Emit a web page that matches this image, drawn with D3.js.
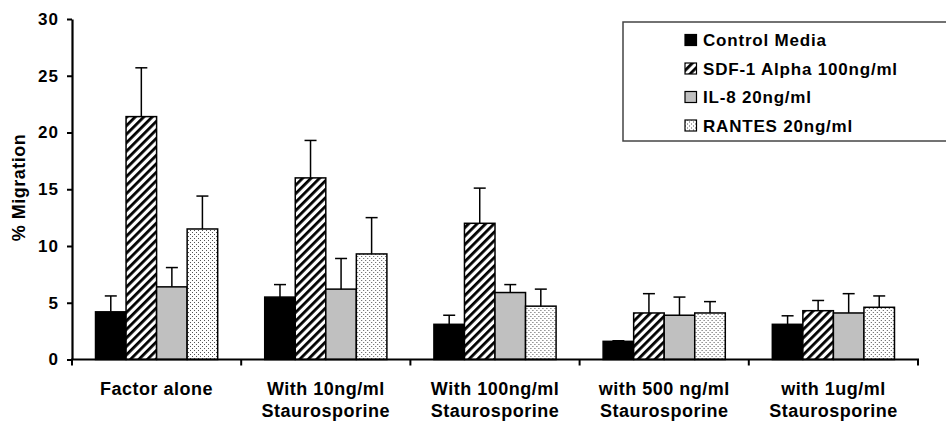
<!DOCTYPE html>
<html>
<head>
<meta charset="utf-8">
<script src="https://cdn.jsdelivr.net/npm/d3@7"></script>
<style>
  html, body { margin: 0; padding: 0; background: #fff; }
  svg { display: block; font-family: "Liberation Sans", Arial, sans-serif; }
</style>
</head>
<body>
<svg id="chart" width="946" height="424"></svg>
<script>
// Treatment groups along the x axis (two-line labels)
const categories = [
  ["Factor alone"],
  ["With 10ng/ml", "Staurosporine"],
  ["With 100ng/ml", "Staurosporine"],
  ["with 500 ng/ml", "Staurosporine"],
  ["with 1ug/ml", "Staurosporine"]
];
const seriesNames = ["Control Media", "SDF-1 Alpha 100ng/ml", "IL-8 20ng/ml", "RANTES 20ng/ml"];

// Mean % migration per series, one value per group
const controlMedia = [4.2, 5.5, 3.1, 1.6, 3.1];
const sdf1Alpha    = [21.4, 16.0, 12.0, 4.1, 4.3];
const il8          = [6.4, 6.2, 5.9, 3.9, 4.1];
const rantes       = [11.5, 9.3, 4.7, 4.1, 4.6];

// Upper error (SD) per series
const controlErr = [1.4, 1.1, 0.8, 0.05, 0.75];
const sdf1Err    = [4.3, 3.3, 3.1, 1.7, 0.9];
const il8Err     = [1.7, 2.7, 0.7, 1.6, 1.7];
const rantesErr  = [2.9, 3.2, 1.5, 1.0, 1.0];

const yTicks = [0, 5, 10, 15, 20, 25, 30];

const seriesValues = [controlMedia, sdf1Alpha, il8, rantes];
const seriesErrors = [controlErr, sdf1Err, il8Err, rantesErr];

const svg = d3.select("#chart");
const margin = { left: 72, right: 28, top: 19, bottom: 64.5 };
const W = 946, H = 424;

const defs = svg.append("defs");
// diagonal hatch
const hatch = defs.append("pattern")
  .attr("id", "hatch").attr("patternUnits", "userSpaceOnUse")
  .attr("width", 6).attr("height", 6)
  .attr("patternTransform", "rotate(45)");
hatch.append("rect").attr("width", 6).attr("height", 6).attr("fill", "#fff");
hatch.append("rect").attr("x", 0).attr("y", 0).attr("width", 2.8).attr("height", 6).attr("fill", "#000");
// stippled dots
const dots = defs.append("pattern")
  .attr("id", "dots").attr("patternUnits", "userSpaceOnUse")
  .attr("width", 4).attr("height", 4);
dots.append("rect").attr("width", 4).attr("height", 4).attr("fill", "#fff");
dots.append("rect").attr("x", 0).attr("y", 0).attr("width", 1).attr("height", 1).attr("fill", "#555");
dots.append("rect").attr("x", 2).attr("y", 2).attr("width", 1).attr("height", 1).attr("fill", "#555");

const fills = ["#000", "url(#hatch)", "#c0c0c0", "url(#dots)"];

const x0 = d3.scaleBand()
  .domain(d3.range(categories.length))
  .range([margin.left, W - margin.right])
  .paddingInner(0).paddingOuter(0);
const x1 = d3.scaleBand()
  .domain(d3.range(seriesNames.length))
  .range([0, x0.bandwidth()])
  .paddingOuter(0.77).paddingInner(0);
const y = d3.scaleLinear().domain([0, 30]).range([H - margin.bottom, margin.top]);

// bars
const groups = svg.append("g").selectAll("g")
  .data(categories).join("g")
  .attr("transform", (d, i) => `translate(${x0(i)},0)`);

seriesNames.forEach((name, s) => {
  groups.append("rect")
    .attr("x", (d, i) => x1(s))
    .attr("y", (d, i) => y(seriesValues[s][i]))
    .attr("width", x1.bandwidth())
    .attr("height", (d, i) => y(0) - y(seriesValues[s][i]))
    .attr("fill", fills[s])
    .attr("stroke", "#000").attr("stroke-width", 1.5);
  // upper error bars
  groups.append("line")
    .attr("x1", (d, i) => x1(s) + x1.bandwidth() / 2)
    .attr("x2", (d, i) => x1(s) + x1.bandwidth() / 2)
    .attr("y1", (d, i) => y(seriesValues[s][i]))
    .attr("y2", (d, i) => y(seriesValues[s][i] + seriesErrors[s][i]))
    .attr("stroke", "#000").attr("stroke-width", 1.5);
  groups.append("line")
    .attr("x1", (d, i) => x1(s) + x1.bandwidth() / 2 - 6)
    .attr("x2", (d, i) => x1(s) + x1.bandwidth() / 2 + 6)
    .attr("y1", (d, i) => y(seriesValues[s][i] + seriesErrors[s][i]))
    .attr("y2", (d, i) => y(seriesValues[s][i] + seriesErrors[s][i]))
    .attr("stroke", "#000").attr("stroke-width", 1.5);
});

// y axis
const yAxis = svg.append("g")
  .attr("transform", `translate(${margin.left},0)`)
  .call(d3.axisLeft(y).tickValues(yTicks).tickSize(5).tickPadding(8).tickSizeOuter(0));
yAxis.select(".domain").attr("stroke", "#000").attr("stroke-width", 2.2);
yAxis.selectAll(".tick line").attr("stroke", "#000").attr("stroke-width", 2);
yAxis.selectAll(".tick text")
  .attr("font-size", 17).attr("font-weight", "bold").attr("fill", "#000")
  .attr("letter-spacing", 1)
  .attr("font-family", "Liberation Sans, Arial, sans-serif");

// x axis with ticks at group boundaries
const boundaries = d3.range(categories.length + 1).map(i => margin.left + i * x0.step());
const xAxisG = svg.append("g");
xAxisG.append("line")
  .attr("x1", margin.left - 1).attr("x2", W - margin.right + 1)
  .attr("y1", y(0)).attr("y2", y(0))
  .attr("stroke", "#000").attr("stroke-width", 2.2);
xAxisG.selectAll(".bt").data(boundaries).join("line")
  .attr("x1", d => d).attr("x2", d => d)
  .attr("y1", y(0)).attr("y2", y(0) + 6)
  .attr("stroke", "#000").attr("stroke-width", 2);

// category labels
const lab = svg.append("g").selectAll("text")
  .data(categories).join("text")
  .attr("x", (d, i) => x0(i) + x0.bandwidth() / 2)
  .attr("y", 395)
  .attr("text-anchor", "middle")
  .attr("letter-spacing", 0.5)
  .attr("font-size", 18).attr("font-weight", "bold").attr("fill", "#000");
lab.selectAll("tspan").data(d => d).join("tspan")
  .attr("x", function() { return this.parentNode.getAttribute("x"); })
  .attr("dy", (d, j) => j === 0 ? 0 : 22)
  .text(d => d);

// y axis title
svg.append("text")
  .attr("transform", `translate(25,187.5) rotate(-90)`)
  .attr("text-anchor", "middle")
  .attr("letter-spacing", 0.5)
  .attr("font-size", 18).attr("font-weight", "bold").attr("fill", "#000")
  .text("% Migration");

// legend
const legend = svg.append("g");
legend.append("rect")
  .attr("x", 623).attr("y", 22).attr("width", 330).attr("height", 119)
  .attr("fill", "#fff").attr("stroke", "#444").attr("stroke-width", 1.5);
const items = legend.selectAll("g.item").data(seriesNames).join("g")
  .attr("transform", (d, i) => `translate(685,${40 + i * 28.5})`);
items.append("rect")
  .attr("x", 0).attr("y", -5.5).attr("width", 11.5).attr("height", 11)
  .attr("fill", (d, i) => fills[i]).attr("stroke", "#000").attr("stroke-width", 1.2);
items.append("text")
  .attr("x", 18).attr("y", 6)
  .attr("letter-spacing", 0.8)
  .attr("font-size", 17).attr("font-weight", "bold").attr("fill", "#000")
  .text(d => d);
</script>
</body>
</html>
